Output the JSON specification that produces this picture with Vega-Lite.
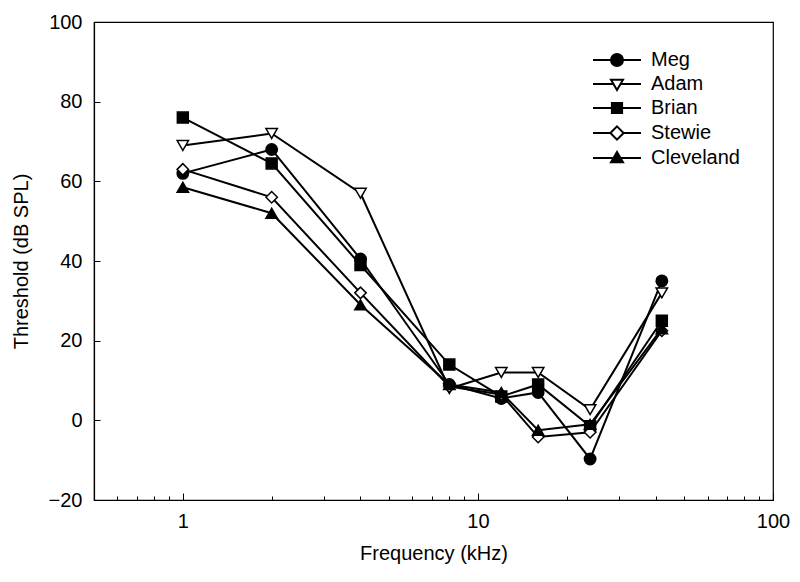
{
  "$schema": "https://vega.github.io/schema/vega-lite/v6.json",
  "width": 679,
  "height": 478,
  "autosize": {"type": "none"},
  "padding": {"left": 94, "top": 22, "right": 27, "bottom": 82},
  "background": "white",
  "config": {
    "view": {"stroke": "black", "strokeWidth": 1.2},
    "font": "Liberation Sans",
    "axis": {
      "domainColor": "black",
      "domainWidth": 1.2,
      "tickColor": "black",
      "tickWidth": 1,
      "grid": false,
      "labelFont": "Liberation Sans",
      "labelFontSize": 20,
      "labelColor": "black",
      "titleFont": "Liberation Sans",
      "titleFontSize": 20,
      "titleFontWeight": "normal",
      "titleColor": "black"
    }
  },
  "data": {
    "values": [
      {"name": "Meg", "freq": 1, "thr": 62},
      {"name": "Meg", "freq": 2, "thr": 68},
      {"name": "Meg", "freq": 4, "thr": 40.5},
      {"name": "Meg", "freq": 8, "thr": 9},
      {"name": "Meg", "freq": 12, "thr": 5.5},
      {"name": "Meg", "freq": 16, "thr": 7},
      {"name": "Meg", "freq": 24, "thr": -9.7},
      {"name": "Meg", "freq": 42, "thr": 35},
      {"name": "Adam", "freq": 1, "thr": 69},
      {"name": "Adam", "freq": 2, "thr": 72},
      {"name": "Adam", "freq": 4, "thr": 57},
      {"name": "Adam", "freq": 8, "thr": 8},
      {"name": "Adam", "freq": 12, "thr": 12},
      {"name": "Adam", "freq": 16, "thr": 12},
      {"name": "Adam", "freq": 24, "thr": 2.7},
      {"name": "Adam", "freq": 42, "thr": 32},
      {"name": "Brian", "freq": 1, "thr": 76},
      {"name": "Brian", "freq": 2, "thr": 64.5},
      {"name": "Brian", "freq": 4, "thr": 39},
      {"name": "Brian", "freq": 8, "thr": 14},
      {"name": "Brian", "freq": 12, "thr": 6},
      {"name": "Brian", "freq": 16, "thr": 9},
      {"name": "Brian", "freq": 24, "thr": -1.5},
      {"name": "Brian", "freq": 42, "thr": 25},
      {"name": "Stewie", "freq": 1, "thr": 63},
      {"name": "Stewie", "freq": 2, "thr": 56},
      {"name": "Stewie", "freq": 4, "thr": 32},
      {"name": "Stewie", "freq": 8, "thr": 8.5},
      {"name": "Stewie", "freq": 12, "thr": 6.5},
      {"name": "Stewie", "freq": 16, "thr": -4.2},
      {"name": "Stewie", "freq": 24, "thr": -3},
      {"name": "Stewie", "freq": 42, "thr": 22.5},
      {"name": "Cleveland", "freq": 1, "thr": 58.5},
      {"name": "Cleveland", "freq": 2, "thr": 52},
      {"name": "Cleveland", "freq": 4, "thr": 29},
      {"name": "Cleveland", "freq": 8, "thr": 9},
      {"name": "Cleveland", "freq": 12, "thr": 7},
      {"name": "Cleveland", "freq": 16, "thr": -2.5},
      {"name": "Cleveland", "freq": 24, "thr": -1},
      {"name": "Cleveland", "freq": 42, "thr": 23}
    ]
  },
  "layer": [
    {
      "mark": {"type": "line", "color": "black", "strokeWidth": 2},
      "encoding": {
        "x": {
          "field": "freq", "type": "quantitative",
          "scale": {"type": "log", "domain": [0.5, 100], "nice": false},
          "axis": {"orient": "bottom", "values": [1, 10, 100], "labelExpr": "datum.value", "tickSize": -7, "labelPadding": 18, "title": "Frequency (kHz)", "titlePadding": 12, "labelFlush": false}
        },
        "y": {
          "field": "thr", "type": "quantitative",
          "scale": {"domain": [-20, 100], "nice": false, "zero": false},
          "axis": {"values": [-20, 0, 20, 40, 60, 80, 100], "tickSize": -6, "labelPadding": 18, "title": "Threshold (dB SPL)", "titlePadding": 17}
        },
        "detail": {"field": "name"}
      }
    },
    {
      "transform": [{"filter": "datum.name === 'Meg'"}],
      "mark": {"type": "point", "shape": "circle", "filled": true, "fill": "black", "stroke": "black", "strokeWidth": 1.5, "size": 130, "opacity": 1},
      "encoding": {
        "x": {
          "field": "freq", "type": "quantitative",
          "axis": {"orient": "bottom", "values": [0.6, 0.7, 0.8, 0.9, 2, 3, 4, 5, 6, 7, 8, 9, 20, 30, 40, 50, 60, 70, 80, 90], "labels": false, "domain": false, "tickSize": -4, "title": null}
        },
        "y": {"field": "thr", "type": "quantitative", "axis": null}
      }
    },
    {
      "transform": [{"filter": "datum.name === 'Adam'"}],
      "mark": {"type": "point", "shape": "triangle-down", "filled": true, "fill": "white", "stroke": "black", "strokeWidth": 1.5, "size": 130, "opacity": 1},
      "encoding": {
        "x": {"field": "freq", "type": "quantitative", "axis": null},
        "y": {"field": "thr", "type": "quantitative", "axis": null}
      }
    },
    {
      "transform": [{"filter": "datum.name === 'Brian'"}],
      "mark": {"type": "point", "shape": "square", "filled": true, "fill": "black", "stroke": "black", "strokeWidth": 1.5, "size": 120, "opacity": 1},
      "encoding": {
        "x": {"field": "freq", "type": "quantitative", "axis": null},
        "y": {"field": "thr", "type": "quantitative", "axis": null}
      }
    },
    {
      "transform": [{"filter": "datum.name === 'Stewie'"}],
      "mark": {"type": "point", "shape": "diamond", "filled": true, "fill": "white", "stroke": "black", "strokeWidth": 1.5, "size": 130, "opacity": 1},
      "encoding": {
        "x": {"field": "freq", "type": "quantitative", "axis": null},
        "y": {"field": "thr", "type": "quantitative", "axis": null}
      }
    },
    {
      "transform": [{"filter": "datum.name === 'Cleveland'"}],
      "mark": {"type": "point", "shape": "triangle-up", "filled": true, "fill": "black", "stroke": "black", "strokeWidth": 1.5, "size": 130, "opacity": 1},
      "encoding": {
        "x": {"field": "freq", "type": "quantitative", "axis": null},
        "y": {"field": "thr", "type": "quantitative", "axis": null}
      }
    },
    {
      "mark": {"type": "point", "filled": true, "stroke": "black", "strokeWidth": 2, "opacity": 0},
      "encoding": {
        "x": {"field": "freq", "type": "quantitative", "axis": null},
        "y": {"field": "thr", "type": "quantitative", "axis": null},
        "stroke": {"value": "black"},
        "shape": {
          "field": "name",
          "scale": {
            "domain": ["Meg", "Adam", "Brian", "Stewie", "Cleveland"],
            "range": [
              "M-4,0L-1,0M1,0L4,0M1,0A1,1,0,1,1,-1,0A1,1,0,1,1,1,0Z",
              "M-4,0L-0.59,0M0.59,0L4,0M-1,-0.7L1,-0.7L0,1Z",
              "M-4,0L-0.85,0M0.85,0L4,0M-0.85,-0.85L0.85,-0.85L0.85,0.85L-0.85,0.85Z",
              "M-4,0L-1.1,0M1.1,0L4,0M0,-1.1L1.1,0L0,1.1L-1.1,0Z",
              "M-4,0L-0.59,0M0.59,0L4,0M0,-1L1,0.7L-1,0.7Z"
            ]
          },
          "legend": {"title": null, "orient": "none", "legendX": 513, "legendY": 28, "symbolSize": 144, "symbolStrokeWidth": 2, "symbolStrokeColor": "black", "symbolOpacity": 1, "labelFont": "Liberation Sans", "labelFontSize": 20, "labelColor": "black", "labelOffset": 24, "rowPadding": 4, "padding": 0,
            "encode": {"symbols": {"update": {"stroke": {"value": "black"}, "strokeWidth": {"value": 2}, "opacity": {"value": 1}}}}}
        },
        "fill": {
          "field": "name",
          "scale": {"domain": ["Meg", "Adam", "Brian", "Stewie", "Cleveland"], "range": ["black", "white", "black", "white", "black"]},
          "legend": {"title": null, "orient": "none", "legendX": 513, "legendY": 28, "symbolSize": 144, "symbolStrokeWidth": 2, "symbolStrokeColor": "black", "symbolOpacity": 1, "labelFont": "Liberation Sans", "labelFontSize": 20, "labelColor": "black", "labelOffset": 24, "rowPadding": 4, "padding": 0,
            "encode": {"symbols": {"update": {"stroke": {"value": "black"}, "strokeWidth": {"value": 2}, "opacity": {"value": 1}}}}}
        }
      }
    }
  ],
  "resolve": {
    "axis": {"x": "independent", "y": "independent"}
  }
}
